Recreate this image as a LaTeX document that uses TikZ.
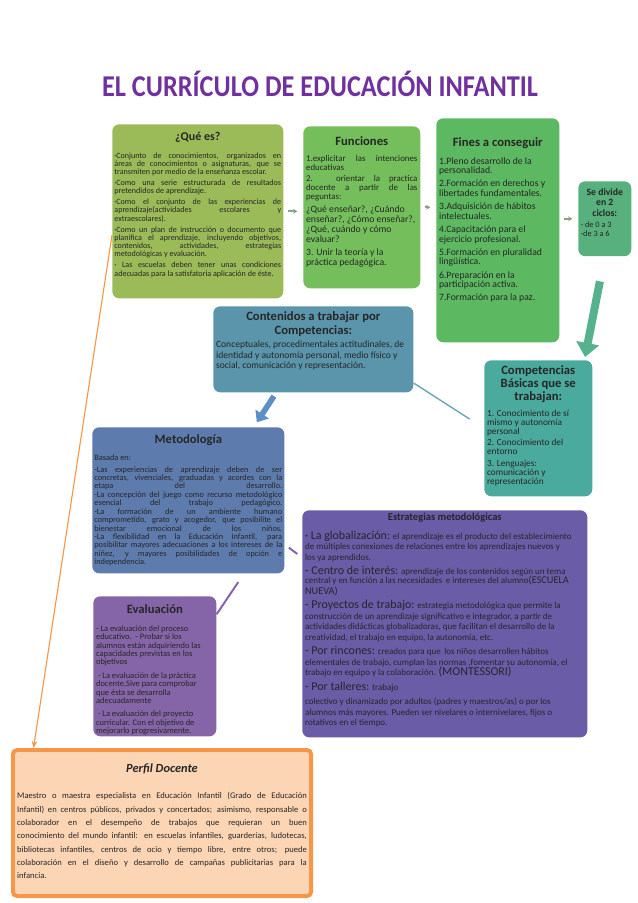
\documentclass[tikz,border=0pt]{standalone}
\usepackage{fontspec}
\setmainfont{Carlito}
\usetikzlibrary{arrows.meta,positioning}

\definecolor{titcol}{RGB}{112,48,160}
\definecolor{queescol}{RGB}{155,187,89}
\definecolor{funccol}{RGB}{116,191,92}
\definecolor{finescol}{RGB}{93,184,98}
\definecolor{divcol}{RGB}{88,176,124}
\definecolor{contcol}{RGB}{91,149,171}
\definecolor{compcol}{RGB}{75,170,158}
\definecolor{metocol}{RGB}{94,123,174}
\definecolor{estrcol}{RGB}{107,92,168}
\definecolor{evalcol}{RGB}{133,101,168}
\definecolor{perfilfill}{RGB}{252,213,180}
\definecolor{perfilline}{RGB}{247,150,70}
\definecolor{flechacol}{RGB}{141,160,138}
\definecolor{azulflecha}{RGB}{91,143,198}
\definecolor{lineacomp}{RGB}{107,167,181}
\definecolor{verdeflecha}{RGB}{85,178,140}

\newcommand{\ftit}{\fontsize{9}{10}\selectfont\bfseries}
\hyphenpenalty=10000
\exhyphenpenalty=10000

\begin{document}
\begin{tikzpicture}[x=0.025cm,y=-0.025cm,
  caja/.style={rounded corners=5pt,inner sep=2pt,anchor=north west,text=black!85},
  flechita/.style={-{Stealth[length=3pt,width=3.5pt]},line width=1.3pt,draw=flechacol,shorten <=3pt,shorten >=4pt},
  flechagrande/.style={-{Triangle[length=10pt,width=16pt]},line width=5.7pt,draw=verdeflecha},
  flechaazul/.style={-{Triangle[length=7pt,width=11pt]},line width=4pt,draw=azulflecha},
  enlace/.style={line width=1pt}]
\useasboundingbox (0,0) rectangle (638,903);

% titulo
\node[anchor=base,text=titcol] (titulo) at (320,96)
  {\scalebox{0.87}[1]{\fontsize{21.5}{24}\selectfont\bfseries EL CURRÍCULO DE EDUCACIÓN INFANTIL}};

% fila superior
\node[caja,fill=queescol,inner sep=1.5pt] (quees) at (112,124) {\parbox[t][120.8pt][t]{118.6pt}{%
  \vspace*{4pt}{\centering\fontsize{8.5}{9}\selectfont\bfseries ¿Qué es?\par}\vspace{5pt}
  \fontsize{5.75}{5.9}\selectfont\setlength{\parskip}{1.8pt}
  ·Conjunto de conocimientos, organizados en\linebreak áreas de conocimientos o asignaturas, que se\linebreak transmiten por medio de la enseñanza escolar.\par
  ·Como una serie estructurada de resultados\linebreak pretendidos de aprendizaje.\par
  ·Como el conjunto de las experiencias de\linebreak aprendizaje(actividades escolares y\linebreak extraescolares).\par
  ·Como un plan de instrucción o documento que\linebreak planifica el aprendizaje, incluyendo objetivos,\linebreak contenidos, actividades, estrategias\linebreak metodológicas y evaluación.\par
  · Las escuelas deben tener unas condiciones\linebreak adecuadas para la satisfatoria aplicación de éste.}};

\node[caja,fill=funccol] (funciones) at (303,126) {\parbox[t][111.2pt][t]{79.2pt}{%
  \vspace*{5pt}{\centering\ftit Funciones\par}\vspace{3pt}
  \fontsize{6.3}{6.3}\selectfont\setlength{\parskip}{2.2pt}
  1.explicitar las intenciones\linebreak educativas\par
  2. orientar la practica\linebreak docente a partir de las\linebreak peguntas:\par
  {\raggedright\fontsize{6.9}{7.1}\selectfont ¿Qué enseñar?, ¿Cuándo\\enseñar?, ¿Cómo enseñar?,\\¿Qué, cuándo y cómo\\evaluar?\par
  3. Unir la teoría y la\\práctica pedagógica.\par}}};

\node[caja,fill=finescol] (fines) at (436,118) {\parbox[t][155.3pt][t]{83.5pt}{%
  \vspace*{12pt}{\centering\ftit Fines a conseguir\par}\vspace{3pt}
  \raggedright\fontsize{6.9}{6.9}\selectfont\setlength{\parskip}{2.4pt}
  1.Pleno desarrollo de la\\personalidad.\par
  2.Formación en derechos y\\libertades fundamentales.\par
  3.Adquisición de hábitos\\intelectuales.\par
  4.Capacitación para el\\ejercicio profesional.\par
  5.Formación en pluralidad\\lingüística.\par
  6.Preparación en la\\participación activa.\par
  7.Formación para la paz.}};

\node[caja,fill=divcol] (sedivide) at (578,181) {\parbox[t][49.3pt][t]{33.7pt}{%
  \vspace*{3pt}{\centering\fontsize{6.9}{7.6}\selectfont\bfseries Se divide\\en 2\\ciclos:\par}\vspace{0.5pt}
  \fontsize{5.9}{7}\selectfont
  · de 0 a 3\par
  ·de 3 a 6}};

% fila media
\node[caja,fill=contcol] (contenidos) at (213,306) {\parbox[t][57.2pt][t]{138.3pt}{%
  \vspace*{2pt}{\centering\ftit Contenidos a trabajar por\\Competencias:\par}\vspace{2pt}
  \raggedright\fontsize{6.8}{7.3}\selectfont
  Conceptuales, procedimentales actitudinales, de\\identidad y autonomía personal, medio físico y\\social, comunicación y representación.}};

\node[caja,fill=compcol] (competencias) at (484,360) {\parbox[t][92.7pt][t]{72.8pt}{%
  \vspace*{2pt}{\centering\fontsize{9}{9}\selectfont\bfseries Competencias\\Básicas que se\\trabajan:\par}\vspace{3pt}
  \raggedright\fontsize{6.6}{6.4}\selectfont\setlength{\parskip}{2pt}
  1. Conocimiento de sí\\mismo y autonomía\\personal\par
  2. Conocimiento del\\entorno\par
  3. Lenguajes:\\comunicación y\\representación}};

% fila inferior
\node[caja,fill=metocol,inner sep=1.5pt] (metodologia) at (92,427) {\parbox[t][100.9pt][t]{133.6pt}{%
  \vspace*{4pt}{\centering\ftit Metodología\par}\vspace{3pt}
  \fontsize{5.9}{6}\selectfont\setlength{\parskip}{2.5pt}
  Basada en:\par
  -Las experiencias de aprendizaje deben de ser\linebreak concretas, vivenciales, graduadas y acordes con la\linebreak etapa del desarrollo.\linebreak
  -La concepción del juego como recurso metodológico\linebreak esencial del trabajo pedagógico.\linebreak
  -La formación de un ambiente humano\linebreak comprometido, grato y acogedor, que posibilite el\linebreak bienestar emocional de los niños.\linebreak
  -La flexibilidad en la Educación Infantil, para\linebreak posibilitar mayores adecuaciones a los intereses de la\linebreak niñez, y mayores posibilidades de opción e\linebreak independencia.}};

\node[caja,fill=estrcol] (estrategias) at (302,510) {\parbox[t][157.5pt][t]{198.7pt}{%
  {\centering\fontsize{7.5}{8}\selectfont\bfseries Estrategias metodológicas\par}\vspace{3pt}
  \raggedright\fontsize{6.4}{7.4}\selectfont\setlength{\parskip}{3pt}
  {\fontsize{8.5}{8}\selectfont · La globalización:} el aprendizaje es el producto del establecimiento\\de múltiples conexiones de relaciones entre los aprendizajes nuevos y\\los ya aprendidos.\par
  {\fontsize{8.5}{8}\selectfont - Centro de interés:} aprendizaje de los contenidos según un tema\\central y en función a las necesidades\, e intereses del alumno{\fontsize{7.3}{6.5}\selectfont(ESCUELA\\NUEVA)}\par
  {\fontsize{8.5}{8}\selectfont - Proyectos de trabajo:} estrategia metodológica que permite la\\construcción de un aprendizaje significativo e integrador, a partir de\\actividades didácticas globalizadoras, que facilitan el desarrollo de la\\creatividad, el trabajo en equipo, la autonomía, etc.\par
  {\fontsize{8.5}{8}\selectfont - Por rincones:} creados para que\, los niños desarrollen hábitos\\elementales de trabajo, cumplan las normas ,fomentar su autonomía, el\\trabajo en equipo y la colaboración. {\fontsize{8.5}{8}\selectfont(MONTESSORI)}\par
  {\fontsize{8.5}{8}\selectfont - Por talleres:} trabajo\par
  colectivo y dinamizado por adultos (padres y maestros/as) o por los\\alumnos más mayores. Pueden ser nivelares o internivelares, fijos o\\rotativos en el tiempo.}};

\node[caja,fill=evalcol] (evaluacion) at (93,596) {\parbox[t][95.6pt][t]{83.5pt}{%
  \vspace*{4pt}{\centering\ftit Evaluación\par}\vspace{3pt}
  \raggedright\fontsize{6}{6}\selectfont\setlength{\parskip}{3.5pt}
  - La evaluación del proceso\\educativo.\ \ - Probar si los\\alumnos están adquiriendo las\\capacidades previstas en los\\objetivos\par
  \ - La evaluación de la práctica\\docente.Sive para comprobar\\que ésta se desarrolla\\adecuadamente\par
  \ - La evaluación del proyecto\\curricular. Con el objetivo de\\mejorarlo progresivamente.}};

\node[caja,fill=perfilfill,draw=perfilline,line width=2.8pt,rounded corners=3pt,inner sep=3pt] (perfil) at (11,748)
  {\parbox[t][97.9pt][t]{206pt}{%
  \vspace*{7pt}{\centering\fontsize{8.8}{9.5}\selectfont\bfseries\itshape Perfil Docente\par}\vspace{9pt}
  \fontsize{6.1}{9.5}\selectfont
  Maestro o maestra especialista en Educación Infantil (Grado de Educación\linebreak Infantil) en centros públicos, privados y concertados; asimismo, responsable o\linebreak colaborador en el desempeño de trabajos que requieran un buen\linebreak conocimiento del mundo infantil: en escuelas infantiles, guarderías, ludotecas,\linebreak bibliotecas infantiles, centros de ocio y tiempo libre, entre otros; puede\linebreak colaboración en el diseño y desarrollo de campañas publicitarias para la\linebreak infancia.}};

% conexiones
\draw[flechita] (quees.east) -- (quees.east -| funciones.west);
\draw[flechita] (funciones.east) -- (funciones.east -| fines.west);
\draw[flechita] (sedivide.west -| fines.east) -- (sedivide.west);
\coordinate (puntacomp) at (585,357);
\draw[flechagrande,shorten <=18pt] (sedivide.south) -- (puntacomp);
\draw[enlace,draw=lineacomp,shorten >=12pt] ([yshift=-24pt]contenidos.east) -- (competencias.west);
\draw[flechaazul,shorten <=3pt,shorten >=4pt] ([xshift=45pt]contenidos.south west) -- ([xshift=-22pt]metodologia.north east);
\draw[enlace,draw=evalcol,line width=1.4pt] ([xshift=-33pt,yshift=-6pt]metodologia.south east) -- ([yshift=-13pt]evaluacion.north east);
\draw[enlace,draw=evalcol,line width=1.4pt] ([xshift=3pt,yshift=18.5pt]metodologia.south east) -- ([xshift=9pt,yshift=14pt]metodologia.south east);
\draw[-{Stealth[length=5pt,width=4pt]},draw=perfilline,line width=0.8pt] ([yshift=-17pt]quees.west) -- ([xshift=16pt]perfil.north west);
\end{tikzpicture}
\end{document}
